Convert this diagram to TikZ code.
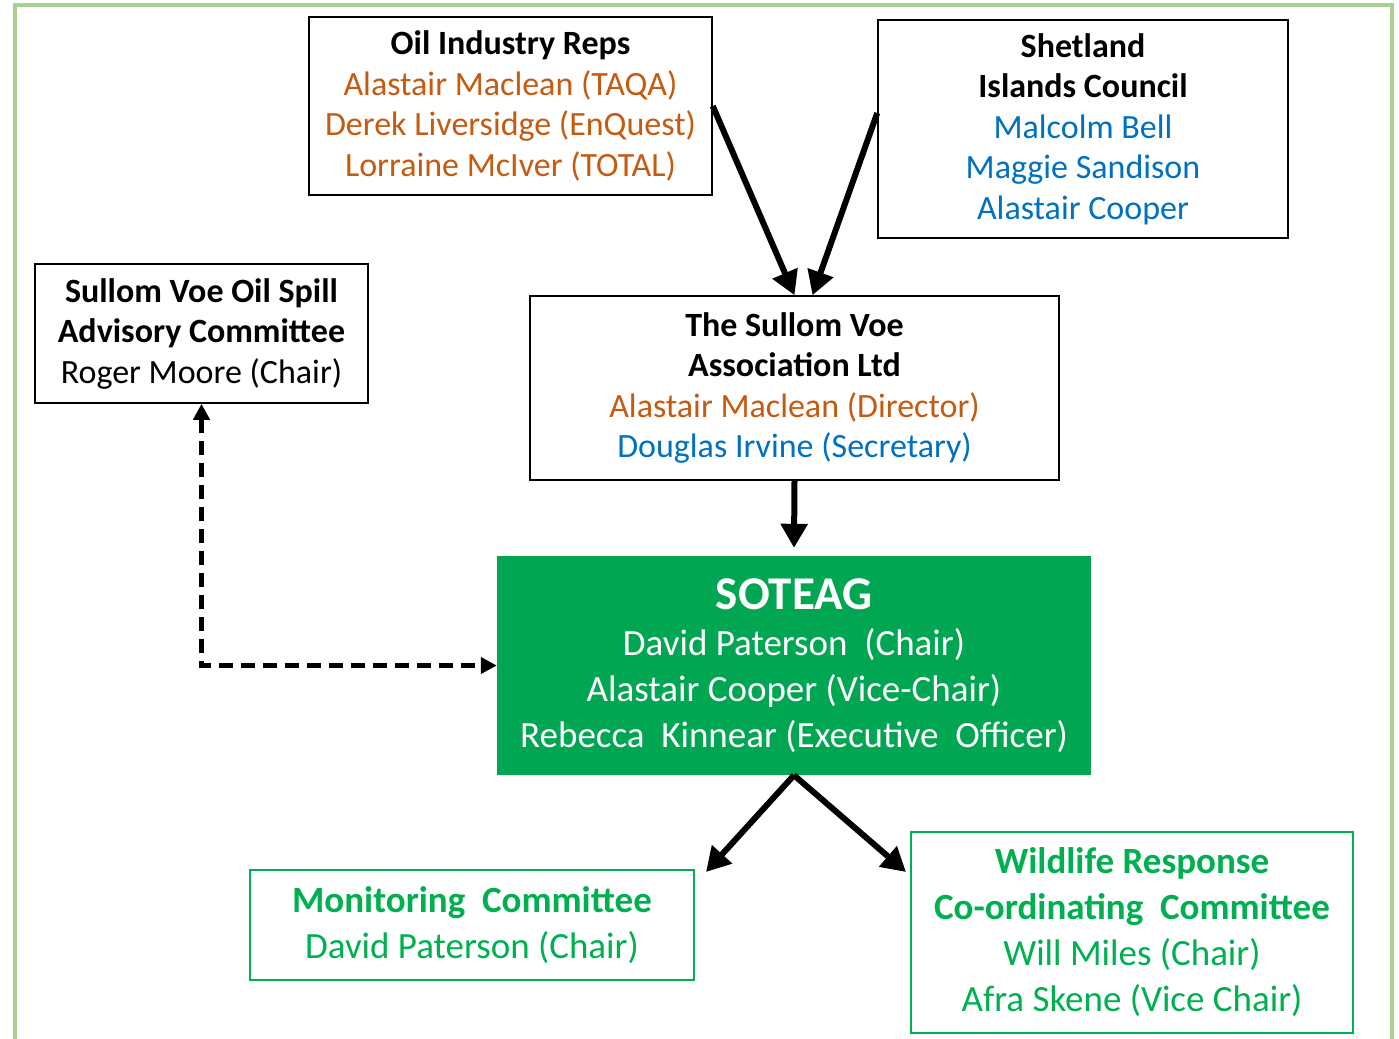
\documentclass[tikz,border=0pt]{standalone}
\usepackage{fontspec}
\setmainfont{Carlito}
\usetikzlibrary{arrows.meta}
\definecolor{oilorange}{RGB}{197,90,17}
\definecolor{sicblue}{RGB}{0,112,192}
\definecolor{soteaggreen}{RGB}{0,166,81}
\definecolor{comgreen}{RGB}{0,176,80}
\definecolor{framegreen}{RGB}{169,208,142}

\begin{document}
\begin{tikzpicture}[x=1pt, y=-1pt,
	main/.style = {draw, line width=1.5pt, align=center, inner sep=0pt, font=\fontsize{34}{40.5}\selectfont},
	com/.style = {draw=comgreen, line width=2pt, align=center, inner sep=0pt, text=comgreen, font=\fontsize{37}{46}\selectfont},
	link/.style = {line width=6pt, -{Triangle[length=24pt, width=26pt]}}]
	\useasboundingbox (0,0) rectangle (1399,1038);
	\draw[framegreen, line width=4pt] (15,5) rectangle (1392,1060);

	\node[main, minimum width=403, minimum height=178](oil) at (510.5,106) {\textbf{Oil Industry Reps}\\
		\textcolor{oilorange}{Alastair Maclean (TAQA)}\\
		\textcolor{oilorange}{Derek Liversidge (EnQuest)}\\
		\textcolor{oilorange}{Lorraine McIver (TOTAL)}};
	\node[main, minimum width=410, minimum height=218](sic) at (1083,129) {\textbf{Shetland}\\
		\textbf{Islands Council}\\
		\textcolor{sicblue}{Malcolm Bell}\\
		\textcolor{sicblue}{Maggie Sandison}\\
		\textcolor{sicblue}{Alastair Cooper}};
	\node[main, minimum width=333, minimum height=139](svosac) at (201.5,333.5) {\textbf{Sullom Voe Oil Spill}\\
		\textbf{Advisory Committee}\\
		Roger Moore (Chair)};
	\node[main, minimum width=529, minimum height=184](sva) at (794.5,388) {\textbf{The Sullom Voe}\\
		\textbf{Association Ltd}\\
		\textcolor{oilorange}{Alastair Maclean (Director)}\\
		\textcolor{sicblue}{Douglas Irvine (Secretary)}};
	\node[fill=soteaggreen, text=white, align=center, inner sep=0pt, minimum width=594, minimum height=219,
		font=\fontsize{37}{46}\selectfont](soteag) at (794,665.5) {{\fontsize{47}{52}\selectfont\textbf{SOTEAG}}\\
		David Paterson~ (Chair)\\
		Alastair Cooper (Vice-Chair)\\
		Rebecca~ Kinnear (Executive~ Officer)};
	\node[com, minimum width=444, minimum height=110](mon) at (472,925) {\textbf{Monitoring~ Committee}\\
		David Paterson (Chair)};
	\node[com, minimum width=442, minimum height=201](wrcc) at (1132,932.5) {\textbf{Wildlife Response}\\
		\textbf{Co-ordinating~ Committee}\\
		Will Miles (Chair)\\
		Afra Skene (Vice Chair)};

	\draw[link] (oil.east) -- ([xshift=0]sva.north);
	\draw[link] ([yshift=16]sic.west) -- ([xshift=18]sva.north);
	\draw[link] (sva.south) -- ([yshift=8]soteag.north);
	\draw[line width=5pt, dash pattern=on 14pt off 8pt, {Triangle[length=16pt, width=16pt]}-{Triangle[length=16pt, width=16pt]}]
		(svosac.south) |- (soteag.west);
	\draw[link] (soteag.south) -- ([xshift=11, yshift=-3]mon.north east);
	\draw[link] (soteag.south) -- ([xshift=-4, yshift=-41]wrcc.north west);
\end{tikzpicture}
\end{document}
